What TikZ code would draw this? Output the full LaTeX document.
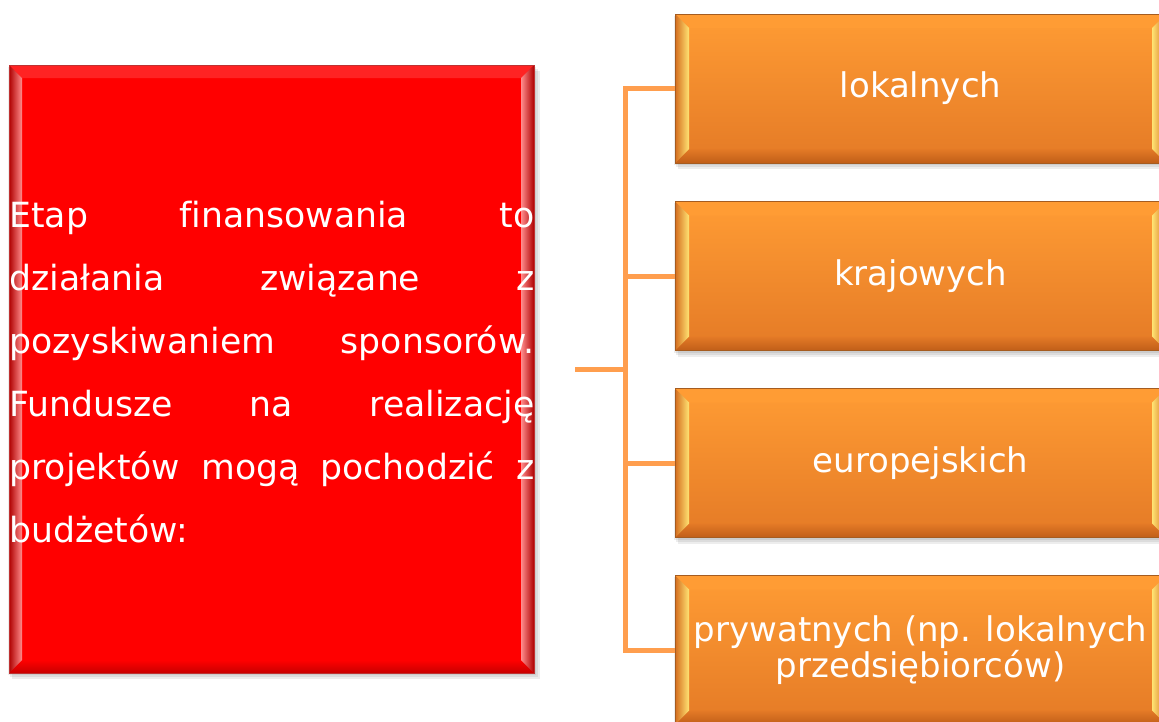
\documentclass[tikz,border=0pt]{standalone}
\usepackage{fontspec}
\setmainfont{DejaVu Sans}[Ligatures={NoCommon}]
\usetikzlibrary{calc,backgrounds}
\definecolor{conncol}{RGB}{255,158,78}
\definecolor{redbase}{RGB}{255,0,0}
\definecolor{reddark}{RGB}{175,0,0}
\definecolor{redlight}{RGB}{255,140,140}
\definecolor{redtop}{RGB}{255,35,35}
\definecolor{redbot}{RGB}{200,0,0}
\definecolor{redborder}{RGB}{190,50,50}
\definecolor{ortop}{RGB}{255,156,52}
\definecolor{orbot}{RGB}{228,122,38}
\definecolor{orouter}{RGB}{212,108,30}
\definecolor{orhigh}{RGB}{255,228,115}
\definecolor{ordark}{RGB}{192,94,24}
\definecolor{orborder}{RGB}{165,92,32}
\tikzset{
  bevelpic/.style n args={6}{path picture={
    \path (path picture bounding box.north west) coordinate (pnw)
          (path picture bounding box.north east) coordinate (pne)
          (path picture bounding box.south west) coordinate (psw)
          (path picture bounding box.south east) coordinate (pse);
    % top strip
    \fill[#6] (pnw) -- (pne) -- ($(pne)+(-#2,#2)$) -- ($(pnw)+(#2,#2)$) -- cycle;
    % bottom strip
    \shade[top color=#1,bottom color=#5] (psw) -- (pse) -- ($(pse)+(-#2,-#2)$) -- ($(psw)+(#2,-#2)$) -- cycle;
    % left strip
    \shade[left color=#3,right color=#4] (pnw) -- ($(pnw)+(#2,#2)$) -- ($(psw)+(#2,-#2)$) -- (psw) -- cycle;
    % right strip
    \shade[left color=#4,right color=#3] (pne) -- ($(pne)+(-#2,#2)$) -- ($(pse)+(-#2,-#2)$) -- (pse) -- cycle;
  }},
  redbox/.style={rectangle, inner sep=0, minimum width=393.75pt, minimum height=456pt,
    fill=redbase, draw=redborder, line width=0.6pt,
    bevelpic={redbase}{13}{reddark}{redlight}{redbot}{redtop}},
  orbox/.style={rectangle, inner sep=0, minimum width=368.25pt, minimum height=111.75pt,
    top color=ortop, bottom color=orbot, draw=orborder, line width=0.6pt,
    bevelpic={orbot}{14}{orouter}{orhigh}{ordark}{ortop},
    text=white, font=\fontsize{25.5}{26.5}\selectfont, align=center},
  conn/.style={draw=conncol, line width=3.75pt, line join=miter, line cap=butt},
  shadowfill/.style={fill=black, opacity=0.07}
}
\begin{document}
\begin{tikzpicture}[x=0.75pt,y=-0.75pt]
\useasboundingbox (0,0) rectangle (1159,721);
% left red box
\node[redbox] (red) at (271.5,369) {};
\node[anchor=base west, inner sep=0, text=white, font=\fontsize{26}{47.25}\selectfont] (redtext) at (9,227)
  {\vtop{\hsize=393.75pt\baselineskip=47.25pt
    \hbox to \hsize{Etap\hfill finansowania\hfill to}
    \hbox to \hsize{działania\hfill związane\hfill z}
    \hbox to \hsize{pozyskiwaniem\hfill sponsorów.}
    \hbox to \hsize{Fundusze\hfill na\hfill realizację}
    \hbox to \hsize{projektów\hfill mogą\hfill pochodzić\hfill z}
    \hbox to \hsize{budżetów:\hfill}}};
% right orange boxes
\node[orbox] (b1) at (920.5,88.5) {lokalnych};
\node[orbox] (b2) at (920.5,276) {krajowych};
\node[orbox] (b3) at (920.5,463) {europejskich};
\node[orbox] (b4) at (920.5,650) {prywatnych (np. lokalnych\\przedsiębiorców)};
% shadows
\begin{scope}[on background layer]
  \foreach \n in {red,b1,b2,b3,b4}{
    \foreach \s in {2,4,6}{
      \fill[shadowfill] ($(\n.north west)+(\s-3,\s)$) rectangle ($(\n.south east)+(\s,\s)$);
    }
  }
\end{scope}
% connectors
\coordinate (stub) at (575,369);
\coordinate (j) at (625,369);
\draw[conn] (stub) -- (j);
\draw[conn] (b1.west) -- (b1.west -| j) -- (b4.west -| j) -- (b4.west);
\draw[conn] (b2.west) -- (b2.west -| j);
\draw[conn] (b3.west) -- (b3.west -| j);
\end{tikzpicture}
\end{document}
